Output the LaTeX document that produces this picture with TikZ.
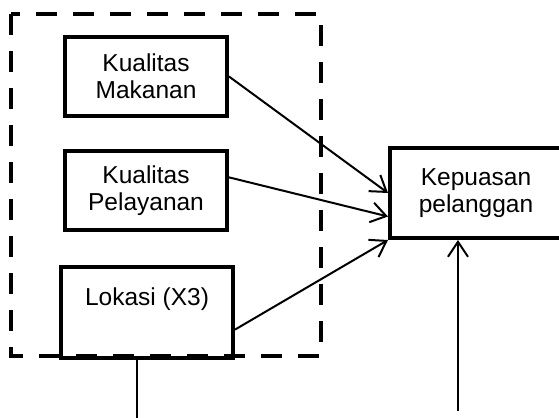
\documentclass[tikz,border=0pt]{standalone}
\usepackage{fontspec}
\setmainfont{Liberation Sans}
\usetikzlibrary{arrows.meta,positioning,calc}

\begin{document}
\begin{tikzpicture}[x=0.5pt, y=-0.5pt,
    >={Straight Barb[length=7.5pt,width=10pt]},
    varbox/.style={draw, line width=2pt, align=center, inner sep=0pt,
        font=\fontsize{12.25}{13.5}\selectfont},
    link/.style={line width=1pt}]
    \useasboundingbox (0,0) rectangle (559,418);

    % Frame round the independent variables
    \draw[line width=2.3pt, dash pattern=on 10.5pt off 8pt] (11,14) rectangle (321,356);

    % Variables
    \node[varbox, minimum width=81pt, minimum height=39.5pt] (mak) at (146,76.5) {Kualitas\\Makanan};
    \node[varbox, minimum width=81pt, minimum height=39.5pt] (pel) at (146,190.5) {Kualitas\\Pelayanan};
    \node[varbox, minimum width=86pt, minimum height=45.5pt] (lok) at (147,312.5) {Lokasi (X3)\\[2pt]~};
    \node[varbox, minimum width=86pt, minimum height=45pt] (kp) at (476,193) {Kepuasan\\pelanggan};

    % Free ends at the bottom
    \coordinate (b1) at (137,418);
    \coordinate (b2) at (458,411);

    % Connections
    \draw[link,->] (mak.east) -- (kp.west);
    \draw[link,->] (pel.9) -- ($(kp.west)!0.5!(kp.south west)$);
    \draw[link,->] (lok.-11) -- (kp.south west);
    \draw[link] (lok.south -| b1) -- (b1);
    \draw[link,->] (b2) -- (b2 |- kp.south);
\end{tikzpicture}
\end{document}
